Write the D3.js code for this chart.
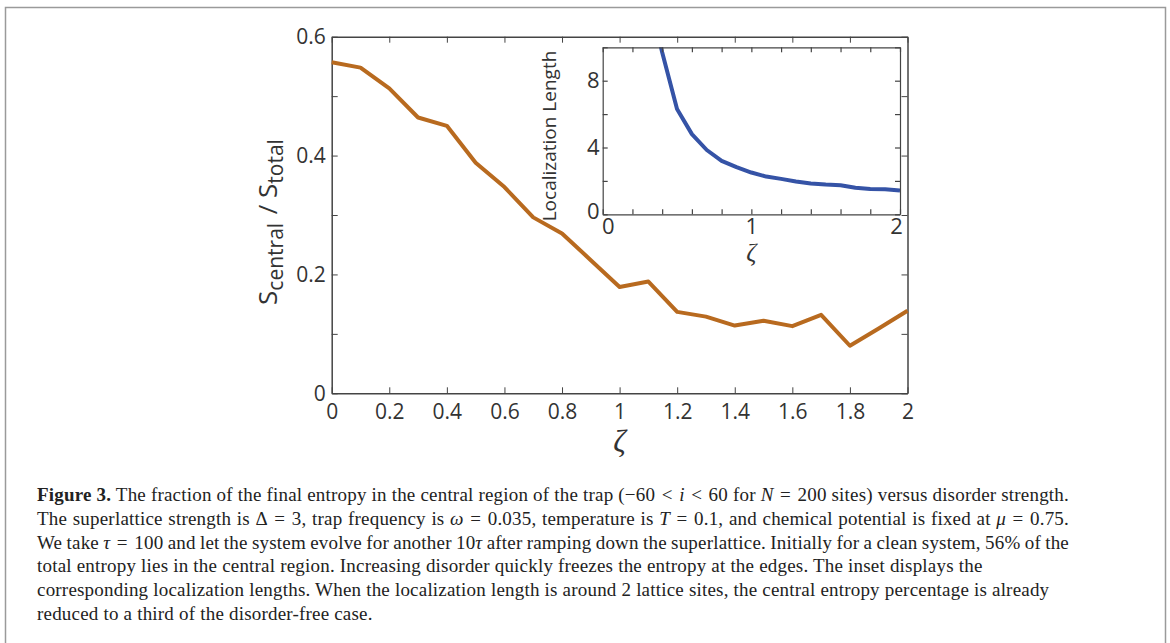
<!DOCTYPE html>
<html>
<head>
<meta charset="utf-8">
<script src="https://cdn.jsdelivr.net/npm/d3@7"></script>
<style>
  body { margin: 0; background: #fff; }
  .ax text { font-family: "Open Sans", sans-serif; fill: #333; }
  .ax path, .ax line { stroke: #444; }
</style>
</head>
<body>
<div id="container"></div>
<script>
// main curve: fraction of entropy in central region vs zeta
let zeta = [0, 0.1, 0.2, 0.3, 0.4, 0.5, 0.6, 0.7, 0.8, 0.9, 1.0, 1.1, 1.2, 1.3, 1.4, 1.5, 1.6, 1.7, 1.8, 1.9, 2.0];
let fraction = [0.557, 0.548, 0.513, 0.464, 0.450, 0.388, 0.347, 0.296, 0.269, 0.224, 0.179, 0.188, 0.137, 0.129, 0.114, 0.122, 0.113, 0.132, 0.080, 0.109, 0.139];

// inset: localization length
let zetaInset = [0.3, 0.4, 0.5, 0.6, 0.7, 0.8, 0.9, 1.0, 1.1, 1.2, 1.3, 1.4, 1.5, 1.6, 1.7, 1.8, 1.9, 2.0];
let locLength = [13.5, 9.7, 6.3, 4.8, 3.85, 3.2, 2.82, 2.5, 2.26, 2.12, 1.96, 1.84, 1.78, 1.74, 1.59, 1.52, 1.5, 1.42];

let xTicks = [0, 0.2, 0.4, 0.6, 0.8, 1, 1.2, 1.4, 1.6, 1.8, 2];
let yTicks = [0, 0.1, 0.2, 0.3, 0.4, 0.5, 0.6];
let yTickLabels = ["0", "", "0.2", "", "0.4", "", "0.6"];
let insetXTicks = [0, 0.2, 0.4, 0.6, 0.8, 1, 1.2, 1.4, 1.6, 1.8, 2];
let insetXLabels = ["0", "", "", "", "", "1", "", "", "", "", "2"];
let insetYTicks = [0, 2, 4, 6, 8, 10];
let insetYLabels = ["0", "", "4", "", "8", ""];

// math spacing around relations
let sp = "\u2004";
let captionLines = [
  [["b", "Figure 3."], ["r", " The fraction of the final entropy in the central region of the trap (\u221260" + sp + "<" + sp], ["i", "i"], ["r", sp + "<" + sp + "60 for "], ["i", "N"], ["r", sp + "=" + sp + "200 sites) versus disorder strength."]],
  [["r", "The superlattice strength is \u0394" + sp + "=" + sp + "3, trap frequency is "], ["i", "\u03c9"], ["r", sp + "=" + sp + "0.035, temperature is "], ["i", "T"], ["r", sp + "=" + sp + "0.1, and chemical potential is fixed at "], ["i", "\u03bc"], ["r", sp + "=" + sp + "0.75."]],
  [["r", "We take "], ["i", "\u03c4"], ["r", sp + "=" + sp + "100 and let the system evolve for another 10"], ["i", "\u03c4"], ["r", " after ramping down the superlattice. Initially for a clean system, 56% of the"]],
  [["r", "total entropy lies in the central region. Increasing disorder quickly freezes the entropy at the edges. The inset displays the"]],
  [["r", "corresponding localization lengths. When the localization length is around 2 lattice sites, the central entropy percentage is already"]],
  [["r", "reduced to a third of the disorder-free case."]]
];

let w = 1170, h = 643;

let svg = d3.select("#container")
  .append("svg")
    .attr("width", w)
    .attr("height", h)
;

// outer frame of the figure
svg.append("rect")
  .attr("x", 5.5).attr("y", 7.5)
  .attr("width", 1160).attr("height", 700)
  .attr("fill", "none")
  .attr("stroke", "#9a9a9a")
  .attr("stroke-width", 1.5);

// ---------- main plot ----------
let pLeft = 331.7, pRight = 907.5, pTop = 36.7, pBottom = 393.3;
let x = d3.scaleLinear().domain([0, 2]).range([pLeft, pRight]);
let y = d3.scaleLinear().domain([0, 0.6]).range([pBottom, pTop]);

let main = svg.append("g").attr("class", "main");

main.append("g").attr("class", "ax")
  .attr("transform", `translate(0,${pBottom})`)
  .call(d3.axisBottom(x).tickValues(xTicks).tickSize(-6).tickSizeOuter(0).tickPadding(11)
    .tickFormat(d => String(+d.toFixed(1))))
  .call(g => g.selectAll("text").attr("font-size", 21));

main.append("g").attr("class", "ax")
  .attr("transform", `translate(0,${pTop})`)
  .call(d3.axisTop(x).tickValues(xTicks).tickSize(-6).tickSizeOuter(0).tickFormat(""));

main.append("g").attr("class", "ax")
  .attr("transform", `translate(${pLeft},0)`)
  .call(d3.axisLeft(y).tickValues(yTicks).tickSize(-6).tickSizeOuter(0).tickPadding(6)
    .tickFormat((d, i) => yTickLabels[i]))
  .call(g => g.selectAll("text").attr("font-size", 21));

main.append("g").attr("class", "ax")
  .attr("transform", `translate(${pRight},0)`)
  .call(d3.axisRight(y).tickValues(yTicks).tickSize(-6).tickSizeOuter(0).tickFormat(""));

main.selectAll(".ax path").attr("stroke-width", 1.5);

let mainLine = d3.line()
  .x((d, i) => x(zeta[i]))
  .y(d => y(d));

main.append("path")
  .datum(fraction)
  .attr("d", mainLine)
  .attr("fill", "none")
  .attr("stroke", "#b86a1f")
  .attr("stroke-width", 4)
  .attr("stroke-linejoin", "round");

// y label
let ylab = main.append("text")
  .attr("transform", `translate(277,222) rotate(-90)`)
  .attr("text-anchor", "middle")
  .attr("font-family", "'Open Sans', sans-serif")
  .attr("fill", "#333")
  .attr("font-size", 26);
ylab.append("tspan").text("S");
ylab.append("tspan").attr("font-size", 21).attr("dy", 6).text("central");
ylab.append("tspan").attr("dy", -6).text("\u2009\u2009/ S");
ylab.append("tspan").attr("font-size", 21).attr("dy", 6).text("total");

// x label
main.append("text")
  .attr("x", x(1)).attr("y", 452)
  .attr("text-anchor", "middle")
  .attr("font-family", "'Liberation Serif', serif")
  .attr("font-style", "italic")
  .attr("fill", "#333")
  .attr("font-size", 31)
  .text("\u03b6");

// ---------- inset ----------
let iLeft = 602.7, iRight = 900, iTop = 47.3, iBottom = 214.3;
let xi = d3.scaleLinear().domain([0, 2]).range([iLeft, iRight]);
let yi = d3.scaleLinear().domain([0, 10]).range([iBottom, iTop]);

let inset = svg.append("g").attr("class", "inset");

inset.append("rect")
  .attr("x", iLeft).attr("y", iTop)
  .attr("width", iRight - iLeft).attr("height", iBottom - iTop)
  .attr("fill", "#fff");

svg.append("clipPath").attr("id", "insetClip")
  .append("rect")
    .attr("x", iLeft).attr("y", iTop)
    .attr("width", iRight - iLeft).attr("height", iBottom - iTop);

inset.append("path")
  .datum(locLength)
  .attr("d", d3.line().x((d, i) => xi(zetaInset[i])).y(d => yi(d)))
  .attr("clip-path", "url(#insetClip)")
  .attr("fill", "none")
  .attr("stroke", "#3553a6")
  .attr("stroke-width", 4)
  .attr("stroke-linejoin", "round");

inset.append("g").attr("class", "ax iax")
  .attr("transform", `translate(0,${iBottom})`)
  .call(d3.axisBottom(xi).tickValues(insetXTicks).tickSize(-5).tickSizeOuter(0).tickPadding(4)
    .tickFormat((d, i) => insetXLabels[i]))
  .call(g => g.selectAll("text").attr("font-size", 22)
    .attr("dx", d => d == 0 ? 5 : d == 2 ? -4 : 0));

inset.append("g").attr("class", "ax iax")
  .attr("transform", `translate(0,${iTop})`)
  .call(d3.axisTop(xi).tickValues(insetXTicks).tickSize(-5).tickSizeOuter(0).tickFormat(""));

inset.append("g").attr("class", "ax iax")
  .attr("transform", `translate(${iLeft},0)`)
  .call(d3.axisLeft(yi).tickValues(insetYTicks).tickSize(-5).tickSizeOuter(0).tickPadding(3)
    .tickFormat((d, i) => insetYLabels[i]))
  .call(g => g.selectAll("text").attr("font-size", 22)
    .attr("y", d => d == 0 ? -3 : 0));

inset.append("g").attr("class", "ax iax")
  .attr("transform", `translate(${iRight},0)`)
  .call(d3.axisRight(yi).tickValues(insetYTicks).tickSize(-5).tickSizeOuter(0).tickFormat(""));

inset.selectAll(".iax path, .iax line").attr("stroke", "#777").attr("stroke-width", 1.2);

inset.append("text")
  .attr("transform", `translate(556,136) rotate(-90)`)
  .attr("text-anchor", "middle")
  .attr("font-family", "'Open Sans', sans-serif")
  .attr("fill", "#333")
  .attr("font-size", 19)
  .text("Localization Length");

inset.append("text")
  .attr("x", xi(1)).attr("y", 261)
  .attr("text-anchor", "middle")
  .attr("font-family", "'Liberation Serif', serif")
  .attr("font-style", "italic")
  .attr("fill", "#333")
  .attr("font-size", 25)
  .text("\u03b6");

// ---------- caption ----------
let capX = 37, capRight = 1069, capY0 = 501, capStep = 23.8;
let cap = svg.append("g").attr("class", "caption");

captionLines.forEach(function(parts, li){
  let t = cap.append("text")
    .attr("x", capX)
    .attr("y", capY0 + li * capStep)
    .attr("font-family", "'Liberation Serif', serif")
    .attr("font-size", 19)
    .attr("letter-spacing", 0.2)
    .attr("fill", "#222");
  parts.forEach(function(p){
    let s = t.append("tspan").text(p[1]);
    if (p[0] == "b") s.attr("font-weight", "bold");
    if (p[0] == "i") s.attr("font-style", "italic");
  });
  // first three lines are justified
  if (li < 3) {
    let len = t.node().getComputedTextLength();
    let spaces = parts.map(p => p[1]).join("").split(" ").length - 1;
    let extra = (capRight - capX - len) / spaces;
    t.attr("word-spacing", extra);
  }
});
</script>
</body>
</html>
